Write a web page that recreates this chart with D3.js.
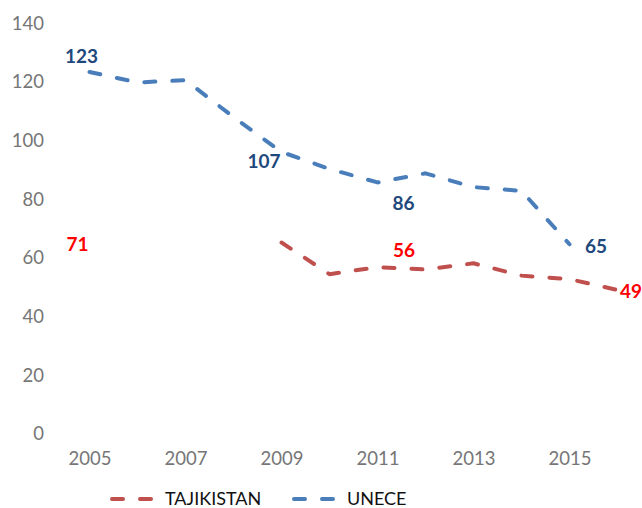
<!DOCTYPE html>
<html>
<head>
<meta charset="UTF-8">
<title>UNECE vs Tajikistan</title>
<style>
body { margin: 0; background: #fff; }
#canvas { width: 642px; height: 508px; }
.tick text { font-family: Lato, sans-serif; font-size: 18.5px; fill: #767676; }
</style>
<script src="https://cdn.jsdelivr.net/npm/d3@7"></script>
</head>
<body>
<div id="canvas"></div>
<script>
// data
var years = [2005, 2006, 2007, 2008, 2009, 2010, 2011, 2012, 2013, 2014, 2015, 2016];
var yearTicks = [2005, 2007, 2009, 2011, 2013, 2015];
var yTicks = [0, 20, 40, 60, 80, 100, 120, 140];
var unece = [123.2, 119.6, 120.4, 107.8, 95.9, 90.1, 85.5, 88.6, 83.9, 82.6, 64.4, null];
var tajikistan = [null, null, null, null, 65, 54.2, 56.6, 55.8, 57.9, 53.7, 52.5, 48.8];
var uneceLabels = [{year: 2005, text: "123"}, {year: 2009, text: "107"}, {year: 2011, text: "86"}, {year: 2015, text: "65"}];
var tajikLabels = [{year: 2005, text: "71", value: 71}, {year: 2011, text: "56"}, {year: 2016, text: "49"}];

// label placement offsets (layout only)
var uneceOffsets = [[-8, -16], [-17.5, 9], [26, 21], [26.5, 2]];
var tajikOffsets = [[-12, 19], [26.5, -17], [13.5, 1]];

var width = 642, height = 508;
var svg = d3.select("#canvas").append("svg")
  .attr("width", width)
  .attr("height", height);

var x = d3.scalePoint().domain(years).range([89.5, 617.5]);
var y = d3.scaleLinear().domain([0, 140]).range([433, 22.7]);

// y axis (no line)
var yAxis = svg.append("g")
  .attr("transform", "translate(44,0)")
  .call(d3.axisLeft(y).tickValues(yTicks).tickSize(0).tickPadding(0));
yAxis.select(".domain").remove();
yAxis.selectAll("text").attr("dy", "0.36em");

// x axis
var xAxis = svg.append("g")
  .attr("transform", "translate(0,452)")
  .call(d3.axisBottom(x).tickValues(yearTicks).tickSize(0).tickPadding(0));
xAxis.select(".domain").remove();
xAxis.selectAll("text").attr("dy", "0.72em");

var blue = "#4a7ebb", red = "#c0504d";

function drawSeries(values, color) {
  var line = d3.line()
    .defined(function(d) { return d != null; })
    .x(function(d, i) { return x(years[i]); })
    .y(function(d) { return y(d); });
  svg.append("path")
    .datum(values)
    .attr("fill", "none")
    .attr("stroke", color)
    .attr("stroke-width", 4)
    .attr("stroke-linecap", "round")
    .attr("stroke-linejoin", "round")
    .attr("stroke-dasharray", "11,17")
    .attr("d", line);
}
drawSeries(tajikistan, red);
drawSeries(unece, blue);

function drawLabels(labels, offsets, values, color) {
  svg.append("g").selectAll("text")
    .data(labels)
    .enter()
    .append("text")
    .attr("x", function(d, i) { return x(d.year) + offsets[i][0]; })
    .attr("y", function(d, i) {
      var v = d.value != null ? d.value : values[years.indexOf(d.year)];
      return y(v) + offsets[i][1];
    })
    .attr("text-anchor", "middle")
    .attr("dy", "0.36em")
    .style("font", "bold 19px Lato, sans-serif")
    .style("fill", color)
    .text(function(d) { return d.text; });
}
drawLabels(uneceLabels, uneceOffsets, unece, "#1f497d");
drawLabels(tajikLabels, tajikOffsets, tajikistan, "#ff0000");

// legend
var legend = [{name: "TAJIKISTAN", color: red, x: 108}, {name: "UNECE", color: blue, x: 290}];
var lg = svg.append("g").selectAll("g")
  .data(legend)
  .enter()
  .append("g")
  .attr("transform", function(d) { return "translate(" + d.x + ",499)"; });
lg.append("line")
  .attr("x1", 4).attr("x2", 47)
  .attr("stroke", function(d) { return d.color; })
  .attr("stroke-width", 4)
  .attr("stroke-linecap", "round")
  .attr("stroke-dasharray", "11,17");
lg.append("text")
  .attr("x", 57)
  .attr("dy", "0.36em")
  .style("font", "18px Lato, sans-serif")
  .style("fill", "#111")
  .text(function(d) { return d.name; });
</script>
</body>
</html>
